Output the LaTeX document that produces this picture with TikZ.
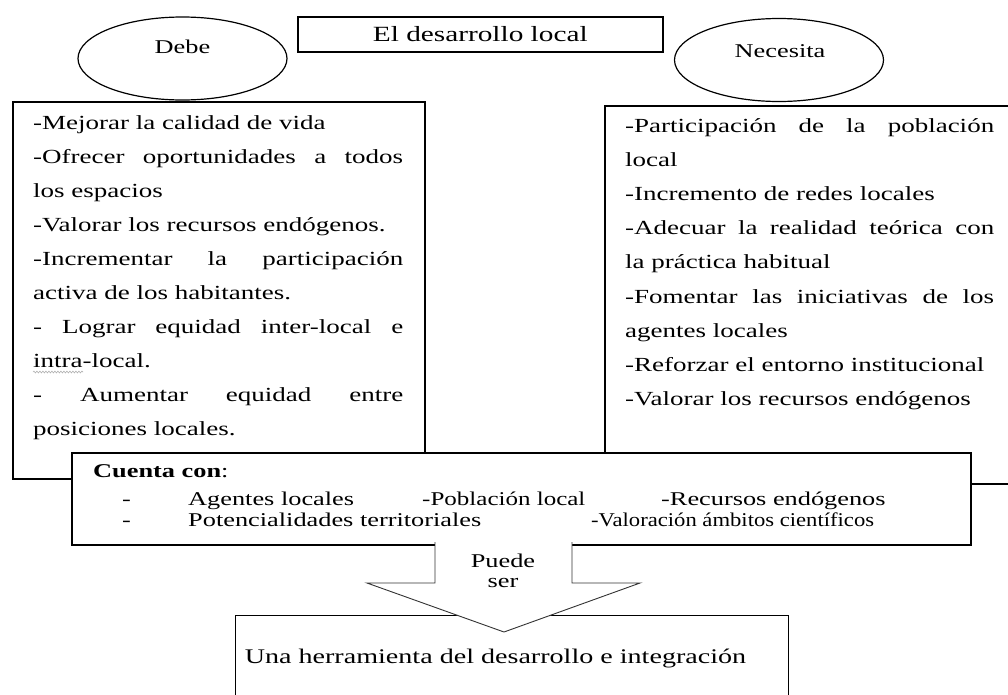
\documentclass[tikz,border=0pt]{standalone}
\usepackage{fontspec}
\usepackage{graphicx}
\setmainfont{Liberation Serif}[FakeStretch=1.35]
\usetikzlibrary{shapes.geometric,decorations.pathmorphing}
\begin{document}
\begin{tikzpicture}[x=1pt,y=-1pt,
  box/.style={draw,line width=1.6pt,fill=white,inner sep=0pt,anchor=north west},
  thinbox/.style={draw,line width=0.9pt,fill=white,inner sep=0pt,anchor=north west},
  ell/.style={draw,ellipse,line width=1.2pt,minimum width=209pt,minimum height=83pt,inner sep=0pt},
  txt/.style={anchor=base west,inner sep=0pt,font=\fontsize{20}{24}\selectfont},
  ctxt/.style={anchor=base west,inner sep=0pt,font=\fontsize{19.5}{22}\selectfont},
  mtxt/.style={anchor=base,inner sep=0pt,font=\fontsize{19.5}{22}\selectfont}]
\useasboundingbox (0,0) rectangle (1008,694);
\clip (0,0) rectangle (1008,694);
% title
\node[box,minimum width=365pt,minimum height=35pt,font=\fontsize{21.7}{24}\selectfont] (title) at (297,16) {El desarrollo local};
% ellipses
\node[ell] (debe) at (182.5,58.5) {};
\node[mtxt] (debeT) at (182.5,53) {Debe};
\node[ell] (nec) at (779,60) {};
\node[mtxt] (necT) at (780,57) {Necesita};
% side boxes
\node[box,minimum width=412pt,minimum height=377pt] (left) at (12,101) {};
\node[box,minimum width=420pt,minimum height=378pt] (right) at (604,105) {};
% left text
\node[txt] (l1) at (33,129) {-Mejorar la calidad de vida};
\node[txt] (l2) at (33,163) {\makebox[370pt][s]{-Ofrecer oportunidades a todos}};
\node[txt] (l3) at (33,197) {los espacios};
\node[txt] (l4) at (33,231) {-Valorar los recursos endógenos.};
\node[txt] (l5) at (33,265) {\makebox[370pt][s]{-Incrementar la participación}};
\node[txt] (l6) at (33,299) {activa de los habitantes.};
\node[txt] (l7) at (33,333) {\makebox[370pt][s]{- Lograr equidad inter-local e}};
\node[txt] (l8) at (33,367) {intra-local.};
\draw[gray!60,line width=0.6pt,decorate,decoration={snake,amplitude=0.9pt,segment length=3pt}] (l8.base west) ++(0,5) coordinate (sq1) -- ++(50,0);
\node[txt] (l9) at (33,401) {\makebox[370pt][s]{- Aumentar equidad entre}};
\node[txt] (l10) at (33,435) {posiciones locales.};
% right text
\node[txt] (r1) at (625,132) {\makebox[369pt][s]{-Participación de la población}};
\node[txt] (r2) at (625,166) {local};
\node[txt] (r3) at (625,200) {-Incremento de redes locales};
\node[txt] (r4) at (625,234) {\makebox[369pt][s]{-Adecuar la realidad teórica con}};
\node[txt] (r5) at (625,268) {la práctica habitual};
\node[txt] (r6) at (625,303) {\makebox[369pt][s]{-Fomentar las iniciativas de los}};
\node[txt] (r7) at (625,337) {agentes locales};
\node[txt] (r8) at (625,371) {-Reforzar el entorno institucional};
\node[txt] (r9) at (625,405) {-Valorar los recursos endógenos};
% cuenta con
\node[box,minimum width=899pt,minimum height=92pt] (cuenta) at (71,452) {};
\node[ctxt] (c0) at (93,477) {\textbf{Cuenta con}:};
\node[ctxt] (c1a) at (122,505) {-};
\node[ctxt] (c1b) at (188,505) {Agentes locales};
\node[ctxt] (c1c) at (422,505) {\scalebox{0.95}[1]{-Población local}};
\node[ctxt] (c1d) at (661,505) {-Recursos endógenos};
\node[ctxt] (c2a) at (122,526) {-};
\node[ctxt] (c2b) at (188,526) {Potencialidades territoriales};
\node[ctxt] (c2c) at (591,526) {\scalebox{0.86}[1]{-Valoración ámbitos científicos}};
% bottom box
\node[thinbox,minimum width=553pt,minimum height=100pt] (herr) at (235,615) {};
\node[anchor=base,inner sep=0pt,font=\fontsize{20.8}{24}\selectfont] (herrT) at (495.5,663) {Una herramienta del desarrollo e integración};
% block arrow
\coordinate (a1) at (435,542);
\coordinate (a2) at (572,542);
\coordinate (tip) at (504,632);
\draw[fill=white,line width=0.9pt,draw=black!80,line join=miter]
  (a1) -- (435,583) -- (367,583) -- (tip) -- (640,583) -- (572,583) -- (a2);
\node[mtxt] (p1) at (503,567) {Puede};
\node[mtxt] (p2) at (503,587) {ser};
\end{tikzpicture}
\end{document}
